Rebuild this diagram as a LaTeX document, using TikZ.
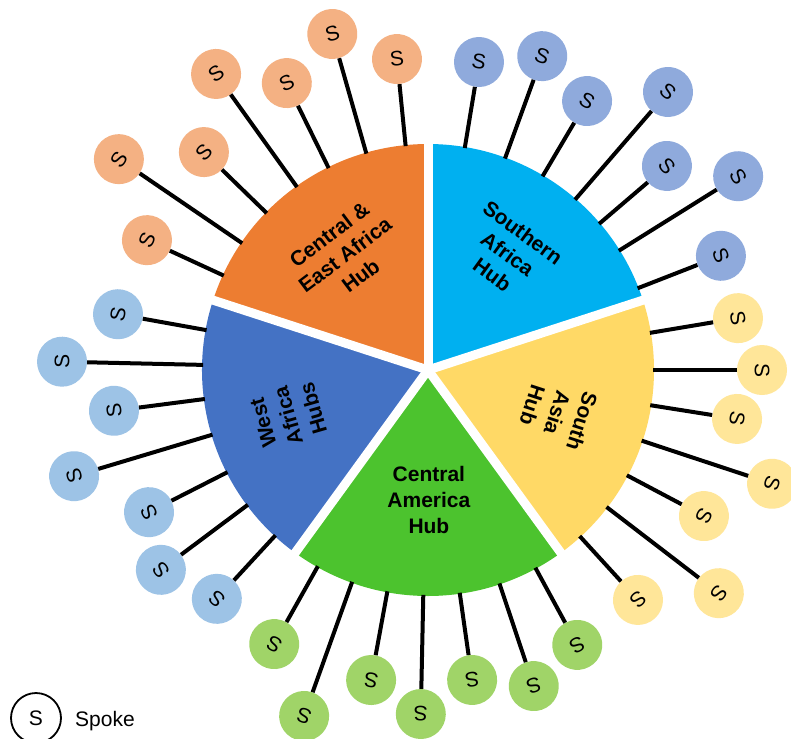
\documentclass[tikz,border=0pt]{standalone}
\usepackage{fontspec}
\setmainfont{Liberation Sans}
\usetikzlibrary{calc}
\definecolor{cOrange}{HTML}{ED7D31}
\definecolor{cCyan}{HTML}{00B0F0}
\definecolor{cYellow}{HTML}{FFD966}
\definecolor{cBlue}{HTML}{4472C4}
\definecolor{cGreen}{HTML}{4CC32E}
\definecolor{sOrange}{HTML}{F4B183}
\definecolor{sCyan}{HTML}{8FAADC}
\definecolor{sYellow}{HTML}{FFE699}
\definecolor{sBlue}{HTML}{9DC3E6}
\definecolor{sGreen}{HTML}{A0D468}
\begin{document}
\begin{tikzpicture}[x=1pt,y=1pt,
  spoke/.style={circle, minimum size=50pt, inner sep=0pt, font=\fontsize{21}{21}\selectfont},
  spokeline/.style={line width=4pt, black},
  hublabel/.style={align=center, inner sep=0pt, font=\fontsize{21}{26}\selectfont\bfseries},
  gap/.style={white, line width=9pt}]
\useasboundingbox (0,0) rectangle (791,-738);
\fill[white] (0,0) rectangle (791,-738);
\coordinate (c) at (428,-370);
% sectors
\fill[cOrange] (c) -- ($(c)+(90:226pt)$) arc[start angle=90,end angle=162,radius=226pt] -- cycle;
\fill[cBlue] (c) -- ($(c)+(162:226pt)$) arc[start angle=162,end angle=234,radius=226pt] -- cycle;
\fill[cGreen] (c) -- ($(c)+(234:226pt)$) arc[start angle=234,end angle=306,radius=226pt] -- cycle;
\fill[cYellow] (c) -- ($(c)+(306:226pt)$) arc[start angle=306,end angle=378,radius=226pt] -- cycle;
\fill[cCyan] (c) -- ($(c)+(18:226pt)$) arc[start angle=18,end angle=90,radius=226pt] -- cycle;
\foreach \g in {90,162,234,306,18}{
  \draw[gap] (c) -- ($(c)+(\g:236pt)$);
}
% hub labels
\node[hublabel, rotate=37] (hubO) at ($(c)+(125.8:142pt)$) {Central \&\\East Africa\\Hub};
\node[hublabel, rotate=-36] (hubC) at ($(c)+(55.6:141pt)$) {Southern\\Africa\\Hub};
\node[hublabel, rotate=-108] (hubY) at ($(c)+(-18.5:136.5pt)$) {South\\Asia\\Hub};
\node[hublabel, rotate=106] (hubB) at ($(c)+(198.1:147pt)$) {West\\Africa\\Hubs};
\node[hublabel] (hubG) at ($(c)+(270.4:130pt)$) {Central\\America\\Hub};
% spokes
\foreach \grp/\col/\lst in {
  o/sOrange/{95.7/312.5, 105.9/349.4, 116.2/319.8, 125.6/364.1, 135.8/312.6, 145.7/374.2, 155.2/309.6},
  c/sCyan/{80.6/312.2, 70.0/334, 59.4/312.5, 49.2/367.3, 40.5/314.2, 32.0/365.7, 21.3/314.4},
  y/sYellow/{9.5/314.3, 0/334, -9/312.9, -18.3/362.4, -27.9/312.2, -37.5/366.6, -47.6/311.4},
  g/sGreen/{240.7/314.3, 250.3/367.5, 259.6/315.2, 268.8/344.1, 278.1/313.1, 288.5/333.3, 298.5/312.8},
  b/sBlue/{169.8/315, 178.7/366.1, 187.4/316.7, 196.7/369.5, 207.0/313.1, 216.8/333.6, 227.3/311.4}}{
  \foreach \a/\r [count=\i] in \lst {
    \pgfmathsetmacro\rot{\a-90}
    \node[spoke, fill=\col, rotate=\rot] (\grp s\i) at ($(c)+(\a:\r pt)$) {S};
    \coordinate (\grp e\i) at ($(c)+(\a:225pt)$);
    \draw[spokeline] (\grp e\i) -- (\grp s\i);
  }
}
% legend
\node[circle, draw=black, line width=1.8pt, minimum size=50pt, inner sep=0pt, font=\fontsize{21}{21}\selectfont] (leg) at (36,-718) {S};
\node[anchor=base west, inner sep=0pt, font=\fontsize{21}{21}\selectfont] (legt) at (75,-726) {Spoke};
\end{tikzpicture}
\end{document}
